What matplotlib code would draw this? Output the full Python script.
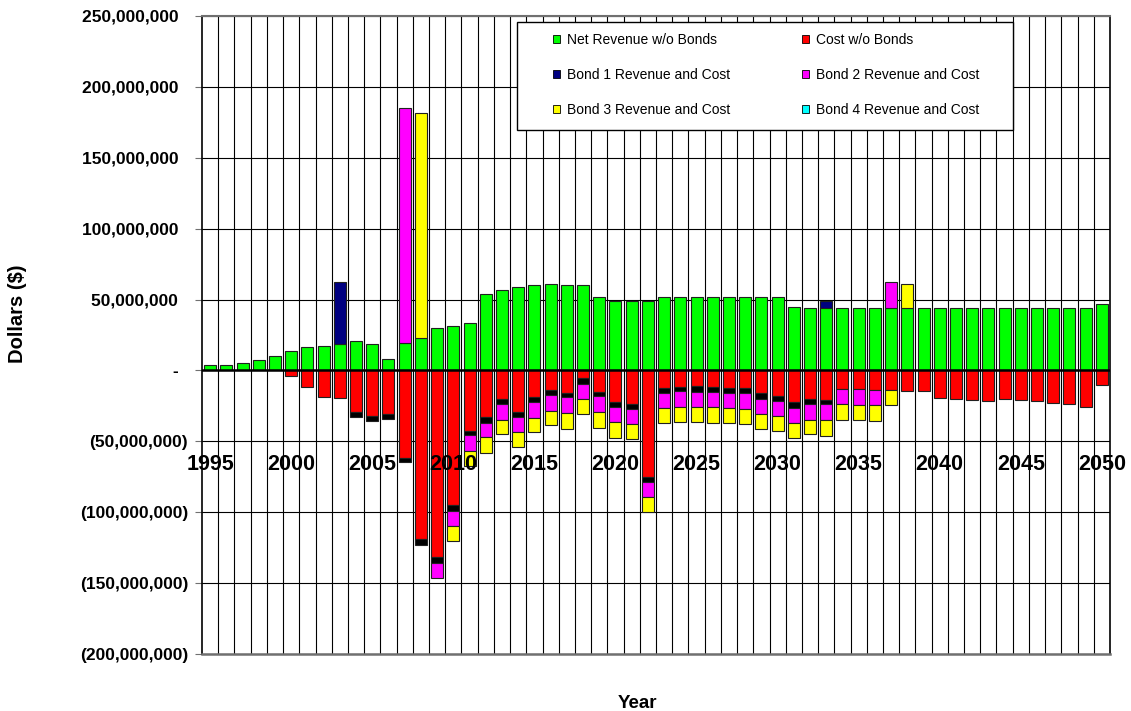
import numpy as np
import matplotlib.pyplot as plt
from matplotlib.patches import Patch, Rectangle
from matplotlib.ticker import FuncFormatter, MultipleLocator

plt.rcParams['font.family'] = ['Liberation Sans', 'DejaVu Sans']

years = np.arange(1995, 2051)

# all values in millions of dollars
net_revenue = [
    3.5, 3.5, 5.1, 7.7, 9.9, 13.4, 16.4, 17.3, 18.8, 21.1,
    19.0, 8.2, 19.7, 22.7, 29.6, 31.7, 33.5, 54.2, 56.5, 58.9,
    60.5, 61.3, 60.5, 60.5, 51.6, 49.3, 49.3, 49.3, 51.6, 51.6,
    51.6, 51.6, 51.6, 51.6, 51.6, 51.6, 44.4, 43.7, 43.7, 43.7,
    43.7, 43.7, 43.7, 43.7, 43.7, 43.7, 43.7, 43.7, 43.7, 43.7,
    43.7, 43.7, 43.7, 43.7, 43.7, 47.2,
]
cost = [
    0, 0, 0, 0, 0, 4.2, 11.5, 18.6, 19.5, 29.1,
    32.2, 30.5, 62.0, 119.0, 131.7, 95.0, 42.7, 33.1, 20.4, 29.1,
    18.6, 13.9, 16.2, 5.6, 15.5, 22.5, 23.7, 74.9, 12.2, 11.5,
    11.1, 12.0, 12.2, 12.7, 16.2, 17.9, 22.5, 20.4, 20.9, 13.2,
    13.2, 13.9, 13.9, 14.6, 14.6, 19.5, 20.2, 21.1, 21.8, 20.4,
    21.1, 21.8, 22.8, 23.7, 25.8, 10.6,
]

# bond proceeds (positive) by year
bond1_revenue = {2003: 43.4, 2033: 5.1}
bond2_revenue = {2007: 165.3, 2037: 18.5}
bond3_revenue = {2008: 159.0, 2038: 17.6}
bond4_revenue = {}

# bond debt service (drawn below zero), first year + yearly values
bond1_cost_start = 2004
bond1_cost = [
    3.6, 3.7, 3.6, 2.8, 3.8, 3.8, 3.9, 2.8, 3.8, 3.3,
    3.6, 3.7, 3.7, 2.8, 4.0, 2.6, 3.3, 3.6, 3.5, 3.6,
    3.3, 4.0, 3.1, 3.6, 3.3, 3.8, 3.7, 3.8, 3.5, 3.0,
]
bond2_cost_start = 2009
bond2_cost = [
    11.0, 10.7, 11.1, 9.9, 11.3, 10.5, 11.1, 10.9, 11.3, 10.4,
    11.3, 10.8, 10.5, 11.0, 10.7, 11.0, 11.0, 10.7, 10.7, 11.0,
    10.8, 10.6, 11.0, 10.9, 10.9, 10.5, 11.0, 10.3,
]
bond3_cost_start = 2010
bond3_cost = [
    10.6, 10.8, 11.4, 10.1, 10.8, 10.3, 10.2, 11.0, 10.8, 11.0,
    11.3, 10.8, 10.4, 10.8, 10.8, 10.5, 11.3, 10.8, 11.0, 10.5,
    10.8, 10.6, 10.3, 11.5, 11.3, 10.8, 11.5, 10.5,
]

GREEN, RED, NAVY = '#00ff00', '#ff0000', '#000080'
MAGENTA, YELLOW, CYAN = '#ff00ff', '#ffff00', '#00ffff'


def from_points(points):
    out = np.zeros(len(years))
    for year, value in points.items():
        out[year - years[0]] = value
    return out


def from_start(start, values):
    out = np.zeros(len(years))
    i = start - years[0]
    out[i:i + len(values)] = values
    return out


def money(v, pos):
    if abs(v) < 1:
        return '-  '
    if v < 0:
        return f'({-v:,.0f})'
    return f'{v:,.0f}  '


def stack(ax, x, series, sign):
    bottom = np.zeros(len(x))
    for values, color in series:
        values = np.asarray(values, dtype=float) * 1e6
        keep = values > 0
        ax.bar(x[keep], sign * values[keep], bottom=bottom[keep], width=0.74,
               color=color, edgecolor='#202020', linewidth=0.8, zorder=2)
        bottom += sign * values


fig = plt.figure(figsize=(11.31, 7.11), dpi=100)
ax = fig.add_axes([202 / 1131, 1 - 654 / 711, 908 / 1131, 638 / 711])

x = np.arange(len(years))
stack(ax, x, [
    (net_revenue, GREEN),
    (from_points(bond1_revenue), NAVY),
    (from_points(bond2_revenue), MAGENTA),
    (from_points(bond3_revenue), YELLOW),
], 1)
stack(ax, x, [
    (cost, RED),
    (from_start(bond1_cost_start, bond1_cost), '#000000'),
    (from_start(bond2_cost_start, bond2_cost), MAGENTA),
    (from_start(bond3_cost_start, bond3_cost), YELLOW),
], -1)

ax.set_xlim(-0.5, len(years) - 0.5)
ax.set_ylim(-200e6, 250e6)

# gridlines: every 50M and at each category boundary
ax.yaxis.set_major_locator(MultipleLocator(50e6))
ax.yaxis.set_major_formatter(FuncFormatter(money))
ax.set_xticks([])
ax.set_xticks(np.arange(0.5, len(years) - 1, 1.0), minor=True)
ax.tick_params(axis='x', which='both', length=0, labelbottom=False)
ax.grid(which='major', axis='y', color='black', linewidth=0.8)
ax.grid(which='minor', axis='x', color='black', linewidth=0.8)
ax.set_axisbelow(True)
ax.axhline(0, color='black', linewidth=1.8, zorder=3)
ax.axhline(-200e6, color='#707070', linewidth=1.8, zorder=3, clip_on=False)
ax.spines['bottom'].set_visible(False)

# year labels hang just below the -50M line, on top of the bars
for i in x[::5]:
    ax.text(i, -66.5e6, str(years[i]), ha='center', va='center',
            fontsize=15.5, fontweight='bold', zorder=5, clip_on=False)

ax.tick_params(axis='y', length=5, color='#707070', pad=5, labelsize=12.5)
for label in ax.get_yticklabels():
    label.set_fontweight('bold')
ax.spines['top'].set_color('#707070')
ax.spines['top'].set_linewidth(1.5)
ax.spines['left'].set_linewidth(1.2)
ax.spines['right'].set_linewidth(1.2)

fig.text(18 / 1131, 1 - 314 / 711, 'Dollars ($)', rotation=90,
         ha='center', va='center', fontsize=14.5, fontweight='bold')
fig.text(637 / 1131, 1 - 703 / 711, 'Year', ha='center', va='center',
         fontsize=13.5, fontweight='bold')

# legend: white box over the grid, entries in two columns
fig.add_artist(Rectangle((517 / 1131, 1 - 130 / 711), 496 / 1131, 108 / 711,
                         transform=fig.transFigure, facecolor='white',
                         edgecolor='black', linewidth=1.0, zorder=4))
names = ['Net Revenue w/o Bonds', 'Bond 1 Revenue and Cost',
         'Bond 3 Revenue and Cost', 'Cost w/o Bonds',
         'Bond 2 Revenue and Cost', 'Bond 4 Revenue and Cost']
colors = [GREEN, NAVY, YELLOW, RED, MAGENTA, CYAN]
handles = [Patch(facecolor=c, edgecolor='black', linewidth=0.6) for c in colors]
fig.legend(handles, names, ncol=2, loc='upper left',
           bbox_to_anchor=(546 / 1131, 1 - 26 / 711), frameon=False,
           fontsize=10, borderpad=0, handlelength=0.5, handleheight=0.5,
           handletextpad=0.5, labelspacing=1.5, columnspacing=5.2)

fig.savefig('out.png', dpi=100)
